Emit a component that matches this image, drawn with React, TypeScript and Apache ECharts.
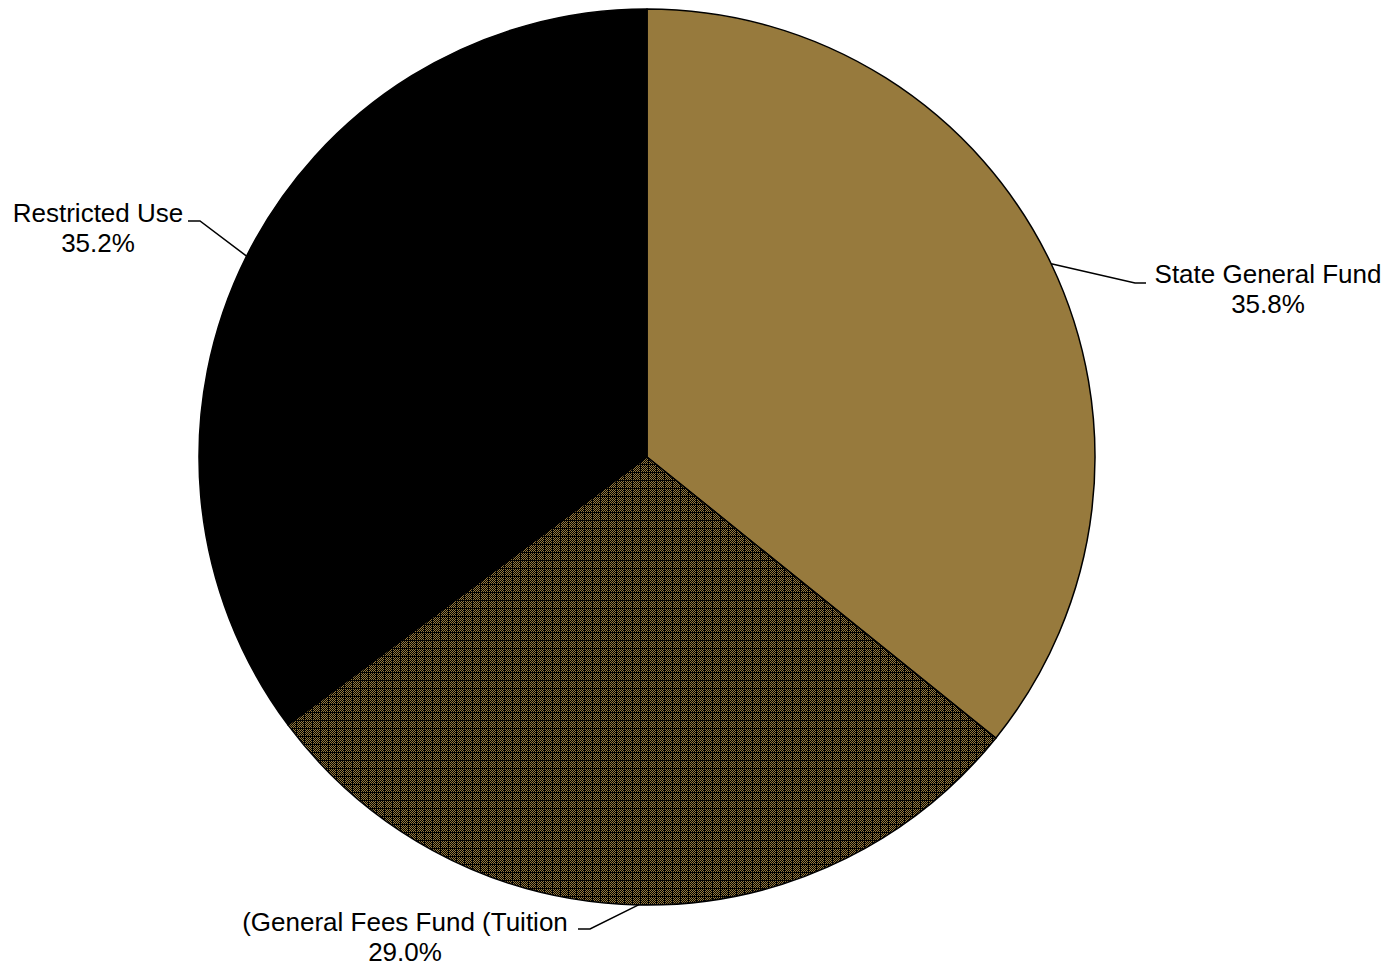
import React, { useEffect, useRef } from "react";
import * as echarts from "echarts";

const categories = ["State General Fund", "(General Fees Fund (Tuition", "Restricted Use"];
const shares = [35.8, 29.0, 35.2];

const GOLD = "#977A3D";

// label centre positions and leader elbows (layout only)
const labelPlacement = [
  { x: 1268, y: 289, elbow: [1135, 283], end: [1146, 283] },
  { x: 405, y: 937, elbow: [590, 929], end: [578, 929] },
  { x: 98, y: 228, elbow: [200, 221], end: [188, 221] },
];

function makePattern(): string {
  const c = document.createElement("canvas");
  c.width = 8;
  c.height = 8;
  const ctx = c.getContext("2d")!;
  ctx.fillStyle = "#000";
  ctx.fillRect(0, 0, 8, 8);
  ctx.fillStyle = GOLD;
  for (let y = 0; y < 8; y++) {
    for (let x = 0; x < 8; x++) {
      if ((x + y) % 2 === 0 && x !== 0 && y !== 0) ctx.fillRect(x, y, 1, 1);
    }
  }
  return c.toDataURL();
}

export default function App() {
  const ref = useRef<HTMLDivElement>(null);
  useEffect(() => {
    document.body.style.margin = "0";
    const chart = echarts.init(ref.current!, null, { renderer: "svg" });
    const pattern = makePattern();
    const colors: any[] = [
      GOLD,
      { image: pattern, repeat: "repeat", imageWidth: 8, imageHeight: 8 },
      "#000000",
    ];
    chart.setOption({
      animation: false,
      backgroundColor: "#ffffff",
      series: [
        {
          type: "pie",
          center: [647, 457],
          radius: 448,
          startAngle: 90,
          clockwise: true,
          silent: true,
          data: categories.map((name, i) => ({
            name,
            value: shares[i],
            itemStyle: { color: colors[i] },
          })),
          itemStyle: { borderColor: "#000", borderWidth: 1.5 },
          label: {
            show: true,
            position: "outside",
            formatter: (p: any) => `${p.name}\n${Number(p.value).toFixed(1)}%`,
            color: "#000",
            fontSize: 26,
            lineHeight: 30,
            fontFamily: "Liberation Sans, Arial, sans-serif",
            align: "center",
          },
          labelLine: {
            show: true,
            length: 20,
            length2: 10,
            lineStyle: { color: "#000", width: 1.5 },
          },
          labelLayout: (p: any) => {
            const pl = labelPlacement[p.dataIndex];
            const pts = p.labelLinePoints;
            const first = pts && pts[0] ? pts[0] : pl.elbow;
            return {
              x: pl.x,
              y: pl.y,
              align: "center",
              verticalAlign: "middle",
              labelLinePoints: [first, pl.elbow, pl.end],
            };
          },
        },
      ],
    });
    return () => chart.dispose();
  }, []);
  return (
    <div
      ref={ref}
      style={{ position: "absolute", left: 0, top: 0, width: 1395, height: 969 }}
    />
  );
}
